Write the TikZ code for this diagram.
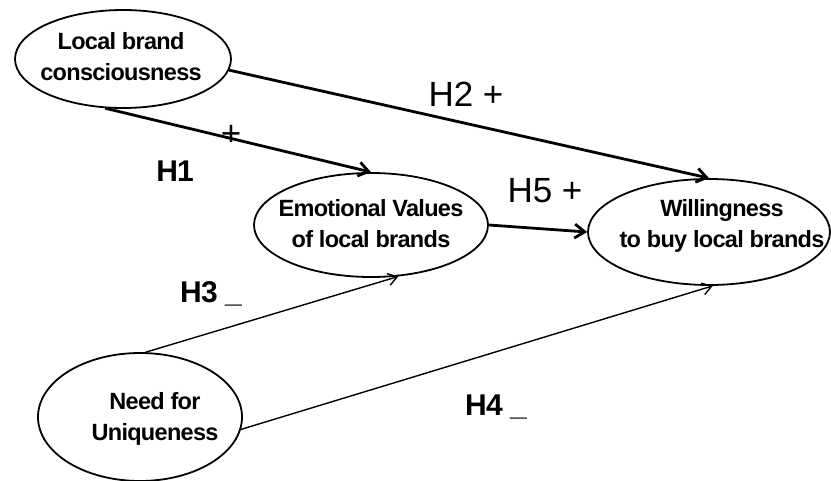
\documentclass[tikz,border=0pt]{standalone}
\usepackage{fontspec}
\setmainfont{Liberation Sans}
\newfontfamily\nodefont{Liberation Sans}[LetterSpace=-3]
\usetikzlibrary{shapes.geometric,arrows.meta}
\tikzset{
  ell/.style={draw, ellipse, line width=1.8pt, inner sep=0pt},
  txt/.style={font=\nodefont\bfseries\fontsize{23.5}{31}\selectfont, align=center, inner sep=0pt},
  hlab/.style={font=\fontsize{35}{40}\selectfont, inner sep=0pt},
  hbold/.style={font=\nodefont\bfseries\fontsize{30}{34}\selectfont, inner sep=0pt},
  thickarr/.style={line width=2.8pt, -{Straight Barb[length=10pt,width=14pt]}},
  thinarr/.style={line width=1.4pt, -{Straight Barb[length=9pt,width=12pt]}}
}
\begin{document}
\begin{tikzpicture}[x=1pt,y=-1pt]
\useasboundingbox (0,0) rectangle (831,481);
% ellipses
\node[ell, minimum width=216pt, minimum height=98pt] (lbc) at (123,59) {};
\node[ell, minimum width=234pt, minimum height=104pt] (ev) at (371,225) {};
\node[ell, minimum width=242pt, minimum height=106pt] (wb) at (709,232) {};
\node[ell, minimum width=204pt, minimum height=128pt] (nu) at (140,417) {};
% texts
\node[txt] (lbct) at (121,57) {Local brand\\consciousness};
\node[txt] (evt) at (371,224) {Emotional Values\\of local brands};
\node[txt] (wbt) at (722,226) {Willingness\\to buy local brands};
\node[txt] (nut) at (155,419) {Need for\\Uniqueness};
% connectors
\draw[thickarr] (lbc.-110) -- (ev.90);
\draw[thickarr] (lbc.-6) -- (wb.90);
\draw[thickarr] (ev.0) -- (wb.180);
\draw[thinarr] (nu.85) -- (ev.-62);
\draw[thinarr] (nu.-7) -- (wb.-86);
% labels
\node[hlab, anchor=base] (h2) at (466,107) {H2 +};
\node[hlab, anchor=base] (h5) at (545,203) {H5 +};
\node[hlab] (p1) at (231,135) {+};
\node[hbold, anchor=base] (h1) at (175,182) {H1};
\node[hbold, anchor=base] (h3) at (211,303) {H3 \_};
\node[hbold, anchor=base] (h4) at (496,415) {H4 \_};
\end{tikzpicture}
\end{document}
